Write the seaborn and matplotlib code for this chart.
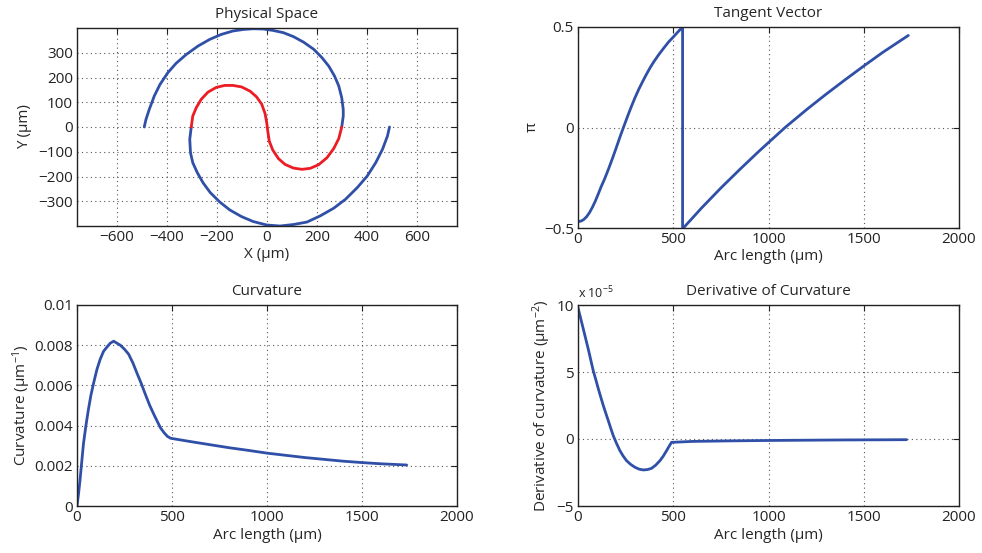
import numpy as np
import pandas as pd
import matplotlib
matplotlib.use("Agg")
import matplotlib.pyplot as plt
import seaborn as sns

# ---------------- data ----------------
# Physical space: inner (red) S-curve
red_x = [-303, -297, -283, -263, -236, -203, -169, -136, -102, -68, -42, -21, -8, -1,
         3, 9, 23, 46, 72, 106, 140, 173, 207, 240, 267, 287, 299]
red_y = [0, 44, 78, 112, 141, 160, 168, 168, 162, 145, 122, 92, 55, 17,
         -16, -57, -93, -128, -151, -166, -171, -167, -152, -124, -87, -47, 0]
# outer (blue) branches
blueA_x = [299, 305, 305, 299, 287, 270, 247, 220, 187, 146, 106, 66, 25, -15, -55,
           -95, -136, -183, -229, -276, -323, -364, -397, -428, -451, -471, -484, -491]
blueA_y = [0, 44, 71, 118, 166, 206, 246, 280, 314, 343, 365, 381, 390, 396, 397,
           394, 388, 374, 354, 327, 293, 257, 219, 172, 125, 71, 31, 0]
blueB_x = [-303, -309, -306, -297, -279, -256, -227, -189, -149, -102, -55, -1, 52,
           106, 160, 213, 267, 314, 361, 401, 435, 462, 482, 490]
blueB_y = [0, -50, -104, -144, -184, -225, -265, -303, -335, -362, -382, -396, -400,
           -394, -384, -359, -328, -292, -245, -198, -144, -90, -36, 0]

# Tangent vector (in units of pi)
tan_s = [0, 15, 30, 45, 60, 75, 90, 105, 120, 140, 160, 180, 200, 220, 240, 260,
         280, 300, 320, 340, 360, 380, 400, 425, 450, 475, 500, 525, 549, 549,
         553, 650, 750, 850, 950, 1087, 1200, 1300, 1400, 1500, 1600, 1734]
tan_v = [-0.468, -0.466, -0.458, -0.444, -0.424, -0.398, -0.368, -0.334, -0.298,
         -0.255, -0.207, -0.156, -0.103, -0.048, 0.004, 0.055, 0.104, 0.15, 0.192,
         0.23, 0.266, 0.3, 0.33, 0.364, 0.395, 0.425, 0.45, 0.476, 0.5, -0.5,
         -0.5, -0.399, -0.301, -0.208, -0.118, 0.0, 0.089, 0.164, 0.236, 0.306, 0.374, 0.458]

# Curvature (1/um)
curv_s = [0, 8, 16, 25, 34, 47, 60, 73, 87, 105, 122, 140, 157, 175, 193, 210, 228,
          250, 272, 295, 316, 338, 360, 383, 405, 423, 440, 458, 475, 493,
          600, 700, 800, 900, 1000, 1100, 1200, 1300, 1400, 1500, 1600, 1735]
curv_k = [0.0, 0.0006, 0.0013, 0.0022, 0.0031, 0.0040, 0.0048, 0.0055, 0.0061,
          0.0068, 0.0073, 0.0077, 0.0079, 0.0081, 0.0082, 0.0081, 0.0080,
          0.0078, 0.00755, 0.0071, 0.0066, 0.0061, 0.00555, 0.0050, 0.00455,
          0.0042, 0.00388, 0.00365, 0.00347, 0.00337,
          0.0032, 0.00305, 0.0029, 0.00277, 0.00263, 0.00252, 0.00241, 0.00232,
          0.00223, 0.00216, 0.0021, 0.00204]

# Derivative of curvature (x 1e-5 um^-2)
dk_s = [0, 14, 28, 41, 54, 67, 80, 94, 107, 120, 133, 146, 159, 172, 185, 202, 220,
        237, 255, 277, 299, 321, 343, 365, 386, 408, 430, 448, 465, 478, 491,
        600, 800, 1000, 1200, 1400, 1600, 1725]
dk_e5 = [9.8, 9.0, 8.2, 7.45, 6.7, 5.9, 5.1, 4.4, 3.73, 3.1, 2.49, 1.92, 1.37, 0.8,
         0.25, -0.32, -0.87, -1.27, -1.62, -1.9, -2.11, -2.25, -2.31, -2.28, -2.19,
         -1.95, -1.62, -1.27, -0.87, -0.55, -0.25,
         -0.18, -0.14, -0.11, -0.09, -0.07, -0.06, -0.05]

# ---------------- style ----------------
sns.set_theme(style="white")
plt.rcParams['font.family'] = ['Open Sans', 'DejaVu Sans']
plt.rcParams['mathtext.fontset'] = 'custom'
plt.rcParams['mathtext.rm'] = 'Open Sans'
plt.rcParams['mathtext.it'] = 'Open Sans:italic'
plt.rcParams['axes.unicode_minus'] = True

BLUE = "#3050A8"
RED = "#EC1C24"
FS = 11
LW = 2.0

fig = plt.figure(figsize=(9.82, 5.53), dpi=100)
W, H = 982, 553

def mk_axes(l, t, r, b):
    return fig.add_axes([l / W, 1 - b / H, (r - l) / W, (b - t) / H])

ax1 = mk_axes(77, 28, 457, 226)
ax2 = mk_axes(578, 27, 959, 228)
ax3 = mk_axes(77, 305, 457, 506)
ax4 = mk_axes(578, 305, 959, 506)

def style(ax, xl, yl):
    for sp in ax.spines.values():
        sp.set_visible(True)
        sp.set_color("#222222")
        sp.set_linewidth(1.0)
    ax.tick_params(direction="in", top=True, right=True, length=4, width=0.8,
                   labelsize=FS, colors="#222222", pad=3)
    ax.grid(True, linestyle=(0, (1, 3)), color="#555555", linewidth=0.8)
    ax.set_axisbelow(True)
    ax.xaxis.label.set_va("center")
    ax.yaxis.label.set_va("center")
    ax.xaxis.set_label_coords(0.5, xl)
    ax.yaxis.set_label_coords(yl, 0.5)

# Physical space
sns.lineplot(x=blueA_x, y=blueA_y, sort=False, estimator=None, ax=ax1, color=BLUE, lw=LW)
sns.lineplot(x=blueB_x, y=blueB_y, sort=False, estimator=None, ax=ax1, color=BLUE, lw=LW)
sns.lineplot(x=red_x, y=red_y, sort=False, estimator=None, ax=ax1, color=RED, lw=LW)
ax1.set_xlim(-760, 760)
ax1.set_ylim(-400, 400)
ax1.set_xticks(np.arange(-600, 601, 200))
ax1.set_yticks(np.arange(-300, 301, 100))
ax1.set_title("Physical Space", fontsize=FS, pad=7)
ax1.set_xlabel("X (\u03bcm)", fontsize=FS)
ax1.set_ylabel("Y (\u03bcm)", fontsize=FS)
style(ax1, -0.145, -0.137)

# Tangent vector
sns.lineplot(x=tan_s, y=tan_v, sort=False, estimator=None, ax=ax2, color=BLUE, lw=LW)
ax2.set_xlim(0, 2000)
ax2.set_ylim(-0.5, 0.5)
ax2.set_xticks([0, 500, 1000, 1500, 2000])
ax2.set_yticks([-0.5, 0, 0.5])
ax2.set_yticklabels(["\u22120.5", "0", "0.5"])
ax2.set_title("Tangent Vector", fontsize=FS, pad=7)
ax2.set_xlabel("Arc length (\u03bcm)", fontsize=FS)
ax2.set_ylabel("\u03c0", fontsize=FS)
style(ax2, -0.144, -0.121)

# Curvature
sns.lineplot(x=curv_s, y=curv_k, sort=False, estimator=None, ax=ax3, color=BLUE, lw=LW)
ax3.set_xlim(0, 2000)
ax3.set_ylim(0, 0.01)
ax3.set_xticks([0, 500, 1000, 1500, 2000])
ax3.set_yticks([0, 0.002, 0.004, 0.006, 0.008, 0.01])
ax3.set_yticklabels(["0", "0.002", "0.004", "0.006", "0.008", "0.01"])
ax3.set_title("Curvature", fontsize=FS, pad=7)
ax3.set_xlabel("Arc length (\u03bcm)", fontsize=FS)
ax3.set_ylabel("Curvature (\u03bcm$^{\u22121}$)", fontsize=FS)
style(ax3, -0.149, -0.145)

# Derivative of curvature
dk_vals = np.array(dk_e5) * 1e-5
sns.lineplot(x=dk_s, y=dk_vals, sort=False, estimator=None, ax=ax4, color=BLUE, lw=LW)
ax4.set_xlim(0, 2000)
ax4.set_ylim(-5e-5, 10e-5)
ax4.set_xticks([0, 500, 1000, 1500, 2000])
ax4.set_yticks([-5e-5, 0, 5e-5, 10e-5])
ax4.set_yticklabels(["\u22125", "0", "5", "10"])
ax4.text(0.0, 1.02, "x 10$^{\u22125}$", transform=ax4.transAxes, fontsize=9,
         ha="left", va="bottom", color="#222222")
ax4.set_title("Derivative of Curvature", fontsize=FS, pad=7)
ax4.set_xlabel("Arc length (\u03bcm)", fontsize=FS)
ax4.set_ylabel("Derivative of curvature (\u03bcm$^{\u22122}$)", fontsize=FS)
style(ax4, -0.149, -0.094)

fig.savefig("out.png", dpi=100)
